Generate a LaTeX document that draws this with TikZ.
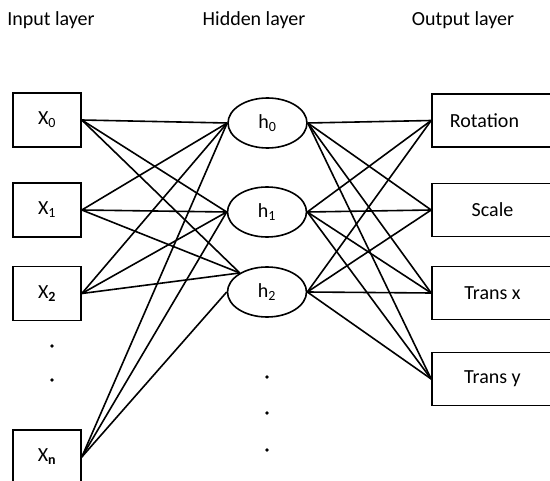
\documentclass[tikz,border=0pt]{standalone}
\usepackage{fontspec}
\setmainfont{Carlito}
\usetikzlibrary{shapes.geometric}
\begin{document}
\begin{tikzpicture}[x=1pt,y=-1pt,
  font=\fontsize{20}{24}\selectfont,
  wire/.style={line width=1.6pt},
  inbox/.style={draw,line width=1.6pt,minimum width=68pt,minimum height=54pt,inner sep=0pt},
  outbox/.style={draw,line width=1.6pt,minimum width=121pt,minimum height=53pt,inner sep=0pt},
  hid/.style={draw,ellipse,line width=1.6pt,minimum width=79pt,minimum height=50pt,inner sep=0pt},
  title/.style={anchor=base},
  dot/.style={circle,fill,inner sep=0pt,minimum size=3.6pt}]
\clip (0,0) rectangle (550,481);
\fill[white] (0,0) rectangle (550,481);

% layer titles
\node[title] (tin)  at (51,26)  {Input layer};
\node[title] (thid) at (254,26) {Hidden layer};
\node[title] (tout) at (463,26) {Output layer};

% input layer
\node[inbox] (x0) at (47,120)   {X\textsubscript{0}};
\node[inbox] (x1) at (47,210)   {X\textsubscript{1}};
\node[inbox] (x2) at (47,293.5) {X\textsubscript{\textbf{2}}};
\node[inbox] (xn) at (47,457)   {X\textsubscript{\textbf{n}}};
\node[dot] (d1) at (52,346) {};
\node[dot] (d2) at (52,380) {};

% hidden layer
\node[hid] (h0) at (267.5,123) {h\textsubscript{0}};
\node[hid] (h1) at (267,212)   {h\textsubscript{1}};
\node[hid] (h2) at (267,292)   {h\textsubscript{2}};
\node[dot] (d3) at (267,377) {};
\node[dot] (d4) at (267,413) {};
\node[dot] (d5) at (267,450) {};

% output layer
\node[outbox] (o0) at (492.5,120.5) {Rotation\hspace*{16pt}};
\node[outbox] (o1) at (492.5,210)   {Scale};
\node[outbox] (o2) at (492.5,293)   {Trans x};
\node[outbox] (o3) at (492.5,379)   {Trans y};

% input -> hidden
\foreach \i in {x0,x1,x2}{
  \draw[wire] (\i.east) -- (h0.west);
  \draw[wire] (\i.east) -- (h1.west);
  \draw[wire] (\i.east) -- (h2.145);
}
\foreach \j in {h0,h1,h2}
  \draw[wire] (xn.east) -- (\j.west);

% hidden -> output
\foreach \j in {h0,h1,h2}
  \foreach \k in {o0,o1,o2,o3}
    \draw[wire] (\j.east) -- (\k.west);
\end{tikzpicture}
\end{document}
